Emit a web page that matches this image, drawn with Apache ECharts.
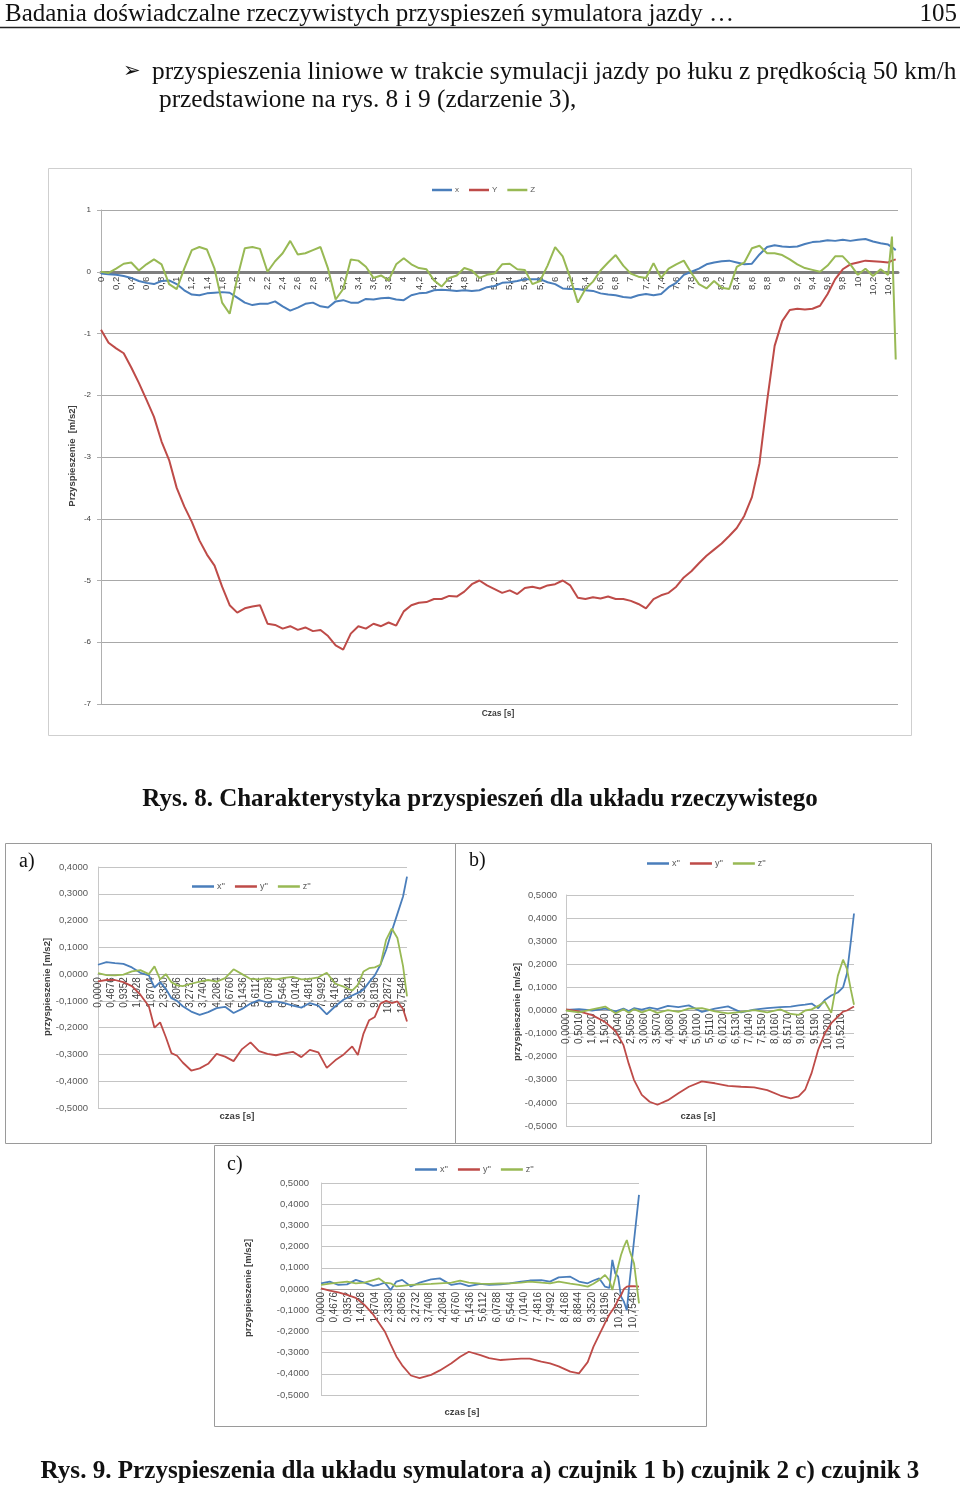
<!DOCTYPE html>
<html><head><meta charset="utf-8">
<script src="https://cdn.jsdelivr.net/npm/echarts@6/dist/echarts.min.js"></script>
<style>html,body{margin:0;padding:0;background:#fff}#c{width:960px;height:1488px}</style>
</head><body><div id="c"></div>
<script>
// ---------- Rys. 8 (main chart) ----------
const MAIN_T = [0,0.1,0.2,0.3,0.4,0.5,0.6,0.7,0.8,0.9,
1,1.1,1.2,1.3,1.4,1.5,1.6,1.7,1.8,1.9,
2,2.1,2.2,2.3,2.4,2.5,2.6,2.7,2.8,2.9,
3,3.1,3.2,3.3,3.4,3.5,3.6,3.7,3.8,3.9,
4,4.1,4.2,4.3,4.4,4.5,4.6,4.7,4.8,4.9,
5,5.1,5.2,5.3,5.4,5.5,5.6,5.7,5.8,5.9,
6,6.1,6.2,6.3,6.4,6.5,6.6,6.7,6.8,6.9,
7,7.1,7.2,7.3,7.4,7.5,7.6,7.7,7.8,7.9,
8,8.1,8.2,8.3,8.4,8.5,8.6,8.7,8.8,8.9,
9,9.1,9.2,9.3,9.4,9.5,9.6,9.7,9.8,9.9,
10,10.1,10.2,10.3,10.4,10.45,10.5];
const MAIN_X = [-0.03,-0.04,-0.05,-0.07,-0.1,-0.15,-0.18,-0.2,-0.15,-0.14,
-0.2,-0.3,-0.37,-0.38,-0.35,-0.34,-0.33,-0.34,-0.42,-0.5,
-0.54,-0.52,-0.52,-0.48,-0.56,-0.63,-0.58,-0.52,-0.5,-0.56,
-0.58,-0.48,-0.46,-0.5,-0.5,-0.44,-0.45,-0.43,-0.42,-0.45,
-0.46,-0.38,-0.35,-0.34,-0.3,-0.29,-0.3,-0.31,-0.3,-0.31,
-0.3,-0.25,-0.23,-0.18,-0.17,-0.15,-0.12,-0.12,-0.12,-0.17,
-0.2,-0.27,-0.28,-0.28,-0.3,-0.31,-0.35,-0.37,-0.38,-0.41,
-0.42,-0.38,-0.36,-0.38,-0.36,-0.25,-0.18,-0.05,0.0,0.05,
0.12,0.15,0.17,0.18,0.15,0.12,0.13,0.28,0.4,0.43,
0.41,0.4,0.41,0.45,0.48,0.49,0.51,0.5,0.52,0.5,
0.52,0.53,0.49,0.46,0.44,0.4,0.35];
const MAIN_Y = [-0.94,-1.15,-1.24,-1.32,-1.55,-1.8,-2.07,-2.35,-2.75,-3.05,
-3.5,-3.8,-4.05,-4.35,-4.58,-4.76,-5.1,-5.4,-5.52,-5.45,
-5.42,-5.4,-5.7,-5.72,-5.78,-5.74,-5.8,-5.76,-5.82,-5.8,
-5.9,-6.05,-6.12,-5.86,-5.74,-5.78,-5.7,-5.74,-5.68,-5.73,
-5.5,-5.4,-5.36,-5.35,-5.3,-5.3,-5.25,-5.26,-5.18,-5.06,
-5.0,-5.08,-5.14,-5.2,-5.16,-5.22,-5.12,-5.1,-5.13,-5.08,
-5.06,-5.0,-5.08,-5.28,-5.3,-5.27,-5.29,-5.26,-5.3,-5.3,
-5.33,-5.38,-5.45,-5.3,-5.24,-5.2,-5.1,-4.95,-4.85,-4.72,
-4.6,-4.5,-4.4,-4.28,-4.15,-3.95,-3.65,-3.1,-2.1,-1.2,
-0.8,-0.62,-0.6,-0.61,-0.6,-0.55,-0.36,-0.12,0.04,0.12,
0.15,0.18,0.17,0.16,0.15,0.18,0.2];
const MAIN_Z = [0.0,-0.02,0.05,0.13,0.15,0.02,0.12,0.2,0.12,-0.2,
-0.28,0.05,0.35,0.4,0.36,0.05,-0.5,-0.68,-0.1,0.38,
0.4,0.37,0.0,0.17,0.3,0.5,0.28,0.3,0.35,0.4,
0.05,-0.45,-0.28,0.2,0.18,0.08,-0.1,-0.06,-0.14,0.12,
0.22,0.12,0.06,0.04,-0.14,-0.24,-0.1,-0.06,0.06,0.02,
-0.1,-0.05,-0.03,0.12,0.13,0.04,0.03,-0.2,-0.15,0.1,
0.4,0.25,-0.1,-0.5,-0.28,-0.16,0.02,0.15,0.27,0.1,
-0.03,-0.08,-0.1,0.14,-0.1,0.05,0.12,0.18,-0.02,-0.2,
-0.27,-0.15,-0.26,-0.28,0.08,0.15,0.38,0.42,0.3,0.3,
0.27,0.2,0.12,0.06,0.03,0.0,0.1,0.25,0.25,0.12,
-0.05,0.05,-0.07,0.04,-0.05,0.57,-1.42];
const MAIN_NAMES = ['x','Y','Z'];

// ---------- Rys. 9 a) ----------
const A_T = [0,0.3,0.6,0.9,1.2,1.5,1.8,2.0,2.2,2.4,2.6,2.8,3.0,3.3,3.6,3.9,4.2,4.5,4.8,5.1,5.4,5.7,6.0,6.3,6.6,6.9,7.2,7.5,7.8,8.1,8.4,8.7,9.0,9.2,9.4,9.6,9.8,10.0,10.2,10.4,10.6,10.8,10.94];
const A_X = [0.035,0.045,0.041,0.038,0.025,0.005,-0.005,-0.05,-0.03,-0.055,-0.09,-0.1,-0.12,-0.14,-0.152,-0.142,-0.127,-0.122,-0.145,-0.13,-0.11,-0.097,-0.106,-0.102,-0.108,-0.118,-0.125,-0.108,-0.118,-0.15,-0.12,-0.095,-0.08,-0.07,-0.058,-0.03,-0.005,0.035,0.09,0.16,0.225,0.29,0.364];
const A_Y = [-0.027,-0.022,-0.022,-0.03,-0.045,-0.077,-0.12,-0.2,-0.18,-0.235,-0.295,-0.305,-0.33,-0.36,-0.352,-0.335,-0.298,-0.308,-0.325,-0.28,-0.255,-0.288,-0.298,-0.303,-0.296,-0.29,-0.31,-0.283,-0.292,-0.35,-0.322,-0.3,-0.27,-0.302,-0.222,-0.172,-0.16,-0.11,-0.1,-0.108,-0.102,-0.13,-0.177];
const A_Z = [0.004,-0.004,-0.005,-0.002,0.01,0.015,0.0,0.029,-0.02,0.0,-0.03,-0.042,-0.045,-0.036,-0.028,-0.022,-0.028,-0.015,0.018,0.0,-0.018,-0.02,-0.015,-0.02,-0.014,-0.01,-0.02,-0.018,-0.012,0.005,-0.036,-0.047,-0.062,-0.04,0.01,0.022,0.025,0.035,0.128,0.17,0.135,0.03,-0.083];

// ---------- Rys. 9 b) ----------
const B_T = [0,0.5,1.0,1.5,1.9,2.2,2.4,2.6,2.9,3.2,3.5,3.9,4.3,4.7,5.2,5.7,6.2,6.7,7.2,7.7,8.2,8.6,8.9,9.15,9.4,9.65,9.9,10.15,10.4,10.6,10.75,10.9,11.02];
const B_X = [0.003,0.006,0.0,0.008,-0.004,0.008,-0.002,0.01,0.004,0.012,0.006,0.02,0.015,0.022,-0.006,0.008,0.018,-0.008,0.004,0.01,0.015,0.017,0.022,0.025,0.03,0.01,0.045,0.065,0.078,0.1,0.16,0.3,0.42];
const B_Y = [0.005,-0.004,-0.02,-0.05,-0.09,-0.15,-0.23,-0.3,-0.365,-0.395,-0.408,-0.388,-0.358,-0.33,-0.307,-0.315,-0.326,-0.33,-0.333,-0.345,-0.368,-0.38,-0.372,-0.343,-0.27,-0.17,-0.1,-0.055,-0.027,-0.005,0.0,0.01,0.017];
const B_Z = [0.0,-0.008,0.005,0.017,-0.012,0.005,-0.01,0.006,-0.008,0.004,-0.01,0.002,-0.006,0.008,0.01,-0.004,-0.012,-0.006,0.002,-0.008,0.005,-0.015,-0.019,0.0,0.005,0.02,0.039,-0.01,0.15,0.22,0.18,0.09,0.025];

// ---------- Rys. 9 c) ----------
const C_T = [0,0.3,0.6,0.9,1.2,1.5,1.8,2.0,2.2,2.4,2.6,2.8,3.1,3.4,3.8,4.1,4.5,4.8,5.1,5.5,5.8,6.2,6.5,6.9,7.2,7.6,7.9,8.2,8.6,8.9,9.2,9.4,9.6,9.8,9.95,10.05,10.15,10.25,10.35,10.45,10.55,10.65,10.8,10.97];
const C_X = [0.027,0.035,0.019,0.022,0.043,0.03,0.015,0.02,0.03,-0.005,0.035,0.043,0.012,0.03,0.045,0.05,0.019,0.027,0.014,0.024,0.02,0.022,0.027,0.035,0.04,0.042,0.035,0.055,0.058,0.035,0.027,0.04,0.05,0.011,0.005,0.137,0.074,0.058,-0.036,-0.06,-0.1,0.04,0.23,0.444];
const C_Y = [0.003,-0.008,-0.016,-0.028,-0.042,-0.075,-0.12,-0.16,-0.2,-0.26,-0.318,-0.36,-0.408,-0.42,-0.405,-0.384,-0.35,-0.32,-0.296,-0.312,-0.326,-0.335,-0.332,-0.328,-0.328,-0.343,-0.351,-0.365,-0.39,-0.398,-0.345,-0.272,-0.215,-0.16,-0.12,-0.1,-0.08,-0.05,-0.03,0.0,0.011,0.013,0.014,0.011];
const C_Z = [0.019,0.025,0.03,0.035,0.027,0.03,0.042,0.05,0.03,0.027,0.012,0.015,0.019,0.022,0.024,0.027,0.03,0.04,0.03,0.025,0.024,0.026,0.027,0.03,0.035,0.03,0.027,0.035,0.025,0.019,0.011,0.025,0.043,0.066,0.04,-0.005,0.05,0.106,0.16,0.2,0.231,0.18,0.12,-0.068];
const SMALL_NAMES = ["x''","y''","z''"];

// ---------- texts ----------
const HEADER = 'Badania doświadczalne rzeczywistych przyspieszeń symulatora jazdy …';
const PAGE_NO = '105';
const BULLET_1 = 'przyspieszenia liniowe w trakcie symulacji jazdy po łuku z prędkością 50 km/h';
const BULLET_2 = 'przedstawione na rys. 8 i 9 (zdarzenie 3),';
const CAPTION_8 = 'Rys. 8. Charakterystyka przyspieszeń dla układu rzeczywistego';
const CAPTION_9 = 'Rys. 9. Przyspieszenia dla układu symulatora a) czujnik 1 b) czujnik 2 c) czujnik 3';

const BLUE = '#4A7EBB', RED = '#BE4B48', GREEN = '#98B954';
const SANS = '"Liberation Sans", Arial, sans-serif';
const SERIF = '"Liberation Serif", "Times New Roman", serif';

const GRIDS = [
  { left: 101, top: 210, width: 797, height: 494 },
  { left: 98, top: 867, width: 309, height: 241 },
  { left: 566, top: 895, width: 288, height: 231 },
  { left: 321, top: 1183, width: 318, height: 212 }
];
const YRANGE = [[-7, 1], [-0.5, 0.4], [-0.5, 0.5], [-0.5, 0.5]];
// place the category axis on the zero line of the value axis
function zeroOffset(i) { const r = YRANGE[i]; return -GRIDS[i].height * (0 - r[0]) / (r[1] - r[0]); }

function pairs(T, V) { return V.map((v, i) => [T[i], v]); }
function comma(v, d) { if (Math.abs(v) < 1e-9) v = 0; return v.toFixed(d).replace('.', ','); }

function smallX(grid, max, interval, cutoff) {
  return {
    gridIndex: grid, type: 'value', min: 0, max: max, interval: interval, position: 'bottom', offset: zeroOffset(grid),
    axisLine: { onZero: false, lineStyle: { color: '#a6a6a6', width: 1 } },
    axisTick: { show: false }, splitLine: { show: false },
    axisLabel: { rotate: 90, fontSize: 10, fontFamily: SANS, color: '#404040', margin: 3,
      showMaxLabel: false, formatter: v => v > cutoff ? '' : comma(v, 4) }
  };
}
function smallY(grid, margin) {
  return {
    gridIndex: grid, type: 'value', min: YRANGE[grid][0], max: YRANGE[grid][1], interval: 0.1,
    axisLine: { show: true, lineStyle: { color: '#c8c8c8' } },
    axisTick: { show: false },
    splitLine: { lineStyle: { color: '#c4c4c4', width: 1 } },
    axisLabel: { fontSize: 9.5, fontFamily: SANS, color: '#595959', margin: margin, formatter: v => comma(v, 4) }
  };
}
function lineSeries(name, idx, T, V, color, w) {
  return { name: name, type: 'line', xAxisIndex: idx, yAxisIndex: idx, data: pairs(T, V),
    symbol: 'none', showSymbol: false, color: color, lineStyle: { color: color, width: w }, z: 3 };
}
function legendAt(names, left, top, fs, w) {
  return { data: names, left: left, top: top, icon: 'rect', itemWidth: w, itemHeight: 2.5, itemGap: 10,
    textStyle: { fontSize: fs, fontFamily: SANS, color: '#595959', padding: [0, 0, 0, -2] } };
}
function txt(x, y, text, font, opts) {
  return Object.assign({ type: 'text', x: x, y: y, silent: true,
    style: Object.assign({ text: text, font: font, fill: '#111', verticalAlign: 'middle', align: 'left' }, (opts && opts.style) || {}) },
    (opts && opts.el) || {});
}
function vtxt(x, y, text, font) {
  return { type: 'text', x: x, y: y, rotation: Math.PI / 2, silent: true,
    style: { text: text, font: font, fill: '#404040', align: 'center', verticalAlign: 'middle' } };
}
function frame(x, y, w, h, color) {
  return { type: 'rect', silent: true, shape: { x: x, y: y, width: w, height: h },
    style: { fill: 'none', stroke: color, lineWidth: 1 } };
}

const chart = echarts.init(document.getElementById('c'), null, { renderer: 'canvas' });
chart.setOption({
  animation: false,
  backgroundColor: '#fff',
  graphic: [
    txt(5, 14, HEADER, '25px ' + SERIF),
    txt(957, 14, PAGE_NO, '25px ' + SERIF, { style: { align: 'right' } }),
    { type: 'line', silent: true, shape: { x1: 0, y1: 27.5, x2: 960, y2: 27.5 }, style: { stroke: '#222', lineWidth: 1.5 } },
    txt(123, 72, '➢', '21px "DejaVu Sans"'),
    txt(152, 72, BULLET_1, '25.35px ' + SERIF),
    txt(159, 100, BULLET_2, '25.35px ' + SERIF),
    frame(48.5, 168.5, 863, 567, '#cfcfcf'),
    vtxt(72, 456, 'Przyspieszenie  [m/s2]', 'bold 9.5px ' + SANS),
    txt(498, 714, 'Czas [s]', 'bold 8.5px ' + SANS, { style: { align: 'center', fill: '#404040' } }),
    txt(480, 800, CAPTION_8, 'bold 25px ' + SERIF, { style: { align: 'center' } }),
    frame(5.5, 843.5, 450, 300, '#9a9a9a'),
    frame(455.5, 843.5, 476, 300, '#9a9a9a'),
    frame(214.5, 1145.5, 492, 281, '#9a9a9a'),
    txt(19, 862, 'a)', '20px ' + SERIF),
    txt(469, 861, 'b)', '20px ' + SERIF),
    txt(227, 1165, 'c)', '20px ' + SERIF),
    vtxt(47, 987, 'przyspieszenie [m/s2]', 'bold 9.5px ' + SANS),
    vtxt(517, 1012, 'przyspieszenie [m/s2]', 'bold 9.5px ' + SANS),
    vtxt(248, 1288, 'przyspieszenie [m/s2]', 'bold 9.5px ' + SANS),
    txt(237, 1116, 'czas [s]', 'bold 9.5px ' + SANS, { style: { align: 'center', fill: '#404040' } }),
    txt(698, 1116, 'czas [s]', 'bold 9.5px ' + SANS, { style: { align: 'center', fill: '#404040' } }),
    txt(462, 1412, 'czas [s]', 'bold 9.5px ' + SANS, { style: { align: 'center', fill: '#404040' } }),
    txt(480, 1472, CAPTION_9, 'bold 25.1px ' + SERIF, { style: { align: 'center' } })
  ],
  legend: [
    legendAt(MAIN_NAMES, 427, 181, 8, 20),
    legendAt(SMALL_NAMES, 187, 877, 9, 22),
    legendAt(SMALL_NAMES, 642, 854, 9, 22),
    legendAt(SMALL_NAMES, 410, 1160, 9, 22)
  ],
  grid: GRIDS,
  xAxis: [
    { gridIndex: 0, type: 'value', min: 0, max: 10.53, interval: 0.2, position: 'bottom', offset: zeroOffset(0),
      axisLine: { onZero: false, lineStyle: { color: '#7f7f7f', width: 3 } },
      axisTick: { show: false }, splitLine: { show: false },
      axisLabel: { rotate: 90, fontSize: 9.5, fontFamily: SANS, color: '#404040', margin: 5, showMaxLabel: false,
        formatter: v => v > 10.41 ? '' : String(+v.toFixed(1)).replace('.', ',') } },
    smallX(1, 10.94, 0.4676, 10.8),
    smallX(2, 11.02, 0.501, 10.6),
    smallX(3, 10.97, 0.4676, 10.8)
  ],
  yAxis: [
    { gridIndex: 0, type: 'value', min: YRANGE[0][0], max: YRANGE[0][1], interval: 1,
      axisLine: { show: true, lineStyle: { color: '#b0b0b0' } },
      axisTick: { show: true, length: 4, lineStyle: { color: '#b0b0b0' } },
      splitLine: { lineStyle: { color: '#a8a8a8', width: 1.2 } },
      axisLabel: { fontSize: 8, fontFamily: SANS, color: '#404040', margin: 10 } },
    smallY(1, 10),
    smallY(2, 9),
    smallY(3, 12)
  ],
  series: [
    lineSeries(MAIN_NAMES[0], 0, MAIN_T, MAIN_X, BLUE, 2),
    lineSeries(MAIN_NAMES[1], 0, MAIN_T, MAIN_Y, RED, 2),
    lineSeries(MAIN_NAMES[2], 0, MAIN_T, MAIN_Z, GREEN, 2),
    lineSeries(SMALL_NAMES[0], 1, A_T, A_X, BLUE, 1.8),
    lineSeries(SMALL_NAMES[1], 1, A_T, A_Y, RED, 1.8),
    lineSeries(SMALL_NAMES[2], 1, A_T, A_Z, GREEN, 1.8),
    lineSeries(SMALL_NAMES[0], 2, B_T, B_X, BLUE, 1.8),
    lineSeries(SMALL_NAMES[1], 2, B_T, B_Y, RED, 1.8),
    lineSeries(SMALL_NAMES[2], 2, B_T, B_Z, GREEN, 1.8),
    lineSeries(SMALL_NAMES[0], 3, C_T, C_X, BLUE, 1.8),
    lineSeries(SMALL_NAMES[1], 3, C_T, C_Y, RED, 1.8),
    lineSeries(SMALL_NAMES[2], 3, C_T, C_Z, GREEN, 1.8)
  ]
});
</script>
</body></html>
